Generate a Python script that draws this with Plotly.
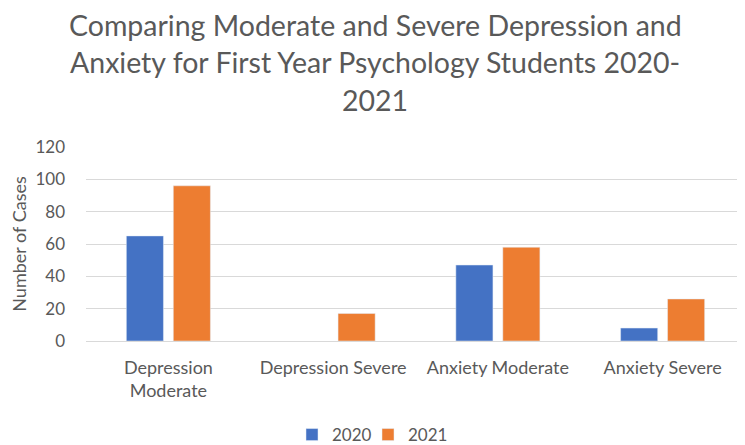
import plotly.graph_objects as go

categories = ["Depression<br>Moderate", "Depression Severe", "Anxiety Moderate", "Anxiety Severe"]
values_2020 = [65, None, 47, 8]
values_2021 = [96, 17, 58, 26]
y_ticks = [0, 20, 40, 60, 80, 100, 120]
title_lines = ["Comparing Moderate and Severe Depression and",
               "Anxiety for First Year Psychology Students 2020-",
               "2021"]

fig = go.Figure()
fig.add_trace(go.Bar(name="2020", x=categories, y=values_2020, marker_color="#4472C4",
                     legend="legend"))
fig.add_trace(go.Bar(name="2021", x=categories, y=values_2021, marker_color="#ED7D31",
                     legend="legend2"))

font_family = "Lato, Open Sans, sans-serif"
gray = "#595959"

# The page has an 8px body margin, so figure coords = screen coords - 8.
# plot area (figure coords): x 78..737, y 139..333
PL, PW, PB, PH = 78, 659, 333, 194
title_y_px = [17, 54, 92]
for line, py in zip(title_lines, title_y_px):
    fig.add_annotation(text=line, xref="paper", yref="paper",
                       x=(367 - PL) / PW, y=(PB - py) / PH,
                       xanchor="center", yanchor="middle", showarrow=False,
                       font=dict(family=font_family, size=28.5, color=gray))

legend_common = dict(orientation="h", xanchor="left", y=(PB - 427) / PH, yanchor="middle",
                     font=dict(size=17, color=gray), itemwidth=30, tracegroupgap=0,
                     bgcolor="rgba(0,0,0,0)")

fig.update_layout(
    width=737, height=437,
    margin=dict(l=78, r=0, t=139, b=104, autoexpand=False),
    paper_bgcolor="white", plot_bgcolor="white",
    barmode="group", bargap=0.43, bargroupgap=0.21,
    font=dict(family=font_family, color=gray, size=16),
    showlegend=True,
    legend=dict(x=(284 - PL) / PW, **legend_common),
    legend2=dict(x=(360 - PL) / PW, **legend_common),
    xaxis=dict(showgrid=False, showline=False, ticks="", tickangle=0,
               tickfont=dict(size=18, color=gray), automargin=False,
               ticklabelstandoff=14),
    yaxis=dict(range=[0, 120], tickvals=y_ticks, showgrid=True, gridcolor="#d9d9d9", gridwidth=1,
               zeroline=True, zerolinecolor="#d9d9d9", zerolinewidth=1,
               ticks="", tickfont=dict(size=17, color=gray), automargin=False,
               ticklabelstandoff=20,
               title=dict(text="Number of Cases", font=dict(size=18, color=gray), standoff=8)),
)

fig.write_html("out.html")
